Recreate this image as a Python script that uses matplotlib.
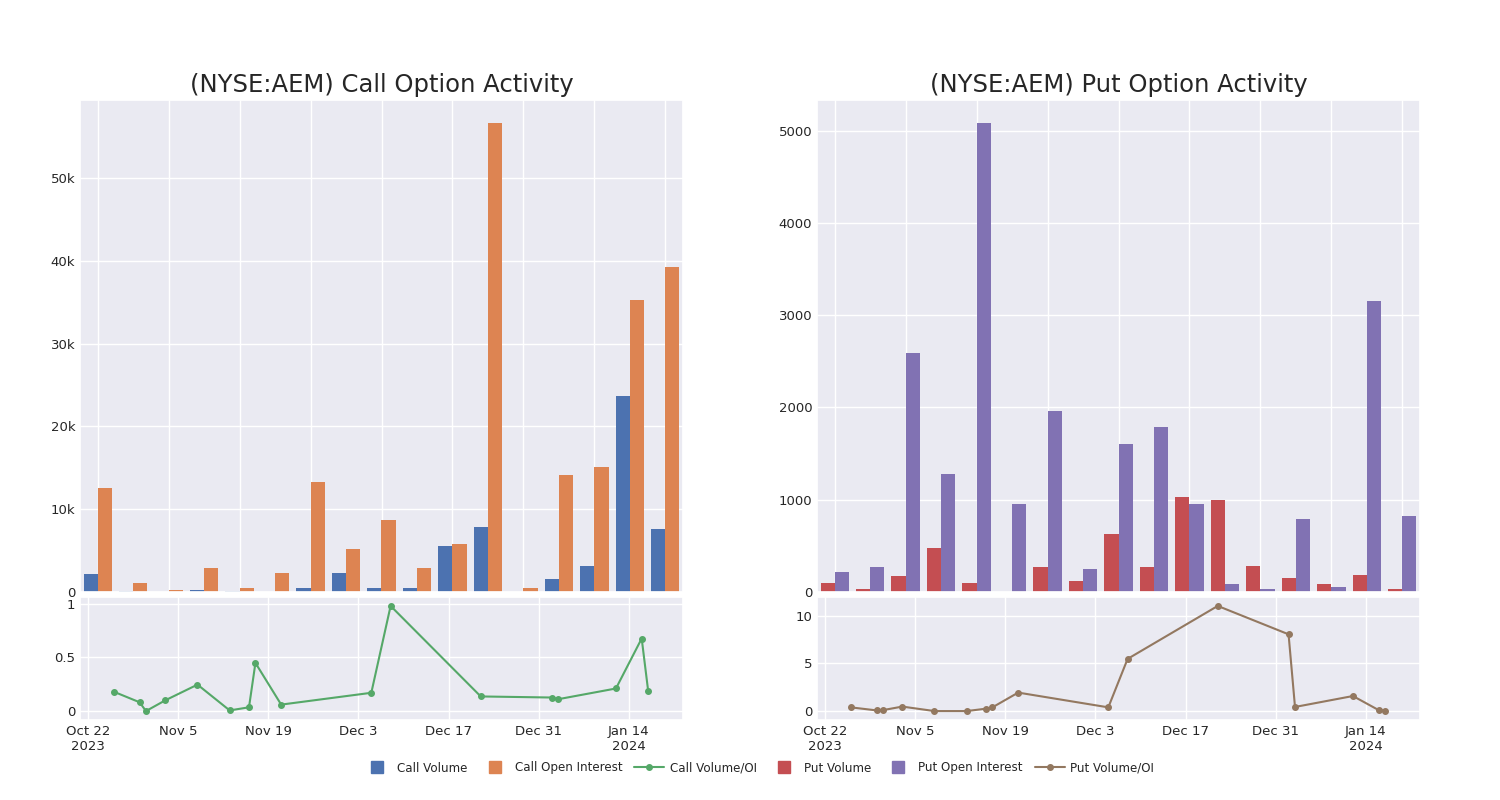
import matplotlib
matplotlib.use("Agg")
import matplotlib.pyplot as plt
import matplotlib.dates as mdates
from matplotlib.ticker import FixedLocator, FuncFormatter
from matplotlib.lines import Line2D
import numpy as np
import datetime as dt
import seaborn as sns

sns.set_theme(style="darkgrid")
plt.rcParams['font.family'] = ['DejaVu Sans']

dates = ["2023-10-26", "2023-10-30", "2023-10-31", "2023-11-03", "2023-11-08",
         "2023-11-13", "2023-11-16", "2023-11-17", "2023-11-21", "2023-12-05",
         "2023-12-08", "2023-12-22", "2024-01-02", "2024-01-03", "2024-01-12",
         "2024-01-16", "2024-01-17"]

call_volume = [2200, 80, 0, 250, 100, 0, 450, 2350, 500, 500, 5600, 7850, 50,
               1550, 3200, 23700, 7600]
call_oi = [12600, 1050, 300, 2900, 500, 2300, 13300, 5250, 8700, 2950, 5750,
           56600, 500, 14100, 15050, 35300, 39300]
call_ratio = [0.18, 0.082, 0.0, 0.10, 0.246, 0.006, 0.035, 0.448, 0.06, 0.17,
              0.978, 0.136, 0.126, 0.11, 0.21, 0.675, 0.19]

put_volume = [95, 33, 170, 475, 98, 3, 269, 120, 624, 272, 1027, 998, 287, 149,
              87, 181, 33]
put_oi = [221, 272, 2595, 1274, 5078, 951, 1964, 254, 1601, 1786, 951, 87, 29,
          788, 51, 3151, 820]
put_ratio = [0.39, 0.07, 0.1, 0.47, 0.0, 0.0, 0.25, 0.39, 1.94, 0.39, 5.48,
             11.04, 8.06, 0.43, 1.58, 0.1, 0.04]

titles = ["(NYSE:AEM) Call Option Activity", "(NYSE:AEM) Put Option Activity"]
legend_labels = ["Call Volume", "Call Open Interest", "Call Volume/OI",
                 "Put Volume", "Put Open Interest", "Put Volume/OI"]

C_BLUE = "#4C72B0"
C_ORANGE = "#DD8452"
C_GREEN = "#55A868"
C_RED = "#C44E52"
C_PURPLE = "#8172B3"
C_BROWN = "#937860"

W, H = 1500, 800
fig = plt.figure(figsize=(W / 100, H / 100), dpi=100)


def frac(x0, y0, x1, y1):
    return [x0 / W, 1 - y1 / H, (x1 - x0) / W, (y1 - y0) / H]


dts = [dt.datetime.strptime(d, "%Y-%m-%d") for d in dates]
tick_dates = [dt.datetime(2023, 10, 22) + dt.timedelta(days=14 * k) for k in range(7)]
xlim_dates = (dt.datetime(2023, 10, 20, 18), dt.datetime(2024, 1, 22, 10))


def date_fmt_factory():
    def f(v, pos):
        d = mdates.num2date(v)
        s = f"{d.strftime('%b')} {d.day}"
        if pos == 0 or (d.month == 1 and d.day <= 14):
            s += f"\n{d.year}"
        return s
    return f


panels = [
    (80, call_volume, call_oi, call_ratio, C_BLUE, C_ORANGE, C_GREEN,
     lambda v, p: "0" if v == 0 else f"{int(round(v / 1000))}k",
     [0, 10000, 20000, 30000, 40000, 50000], [0, 0.5, 1]),
    (817, put_volume, put_oi, put_ratio, C_RED, C_PURPLE, C_BROWN,
     lambda v, p: f"{int(v)}",
     [0, 1000, 2000, 3000, 4000, 5000], [0, 5, 10]),
]

tick_color = "#262626"
for i, (x0, vol, oi, ratio, c1, c2, c3, yfmt, yt, yt2) in enumerate(panels):
    ax = fig.add_axes(frac(x0, 100, x0 + 603, 592))
    n = len(vol)
    pos = np.arange(n)
    ax.bar(pos - 0.2, vol, width=0.4, color=c1, linewidth=0)
    ax.bar(pos + 0.2, oi, width=0.4, color=c2, linewidth=0)
    ax.set_xlim(-0.5, n - 0.5)
    ax.set_xticks(np.arange(0, n, 2))
    ax.set_xticklabels([])
    ax.tick_params(axis="x", length=0)
    ax.yaxis.set_major_locator(FixedLocator(yt))
    ax.yaxis.set_major_formatter(FuncFormatter(yfmt))
    ax.tick_params(axis="y", labelsize=9.5, colors=tick_color, length=0)
    ax.set_ylim(0, max(max(vol), max(oi)) * 1.05)
    ax.set_title(titles[i], fontsize=17.5, color=tick_color, pad=6)

    ax2 = fig.add_axes(frac(x0, 597, x0 + 603, 720))
    ax2.plot(dts, ratio, color=c3, marker="o", markersize=4, linewidth=1.5)
    ax2.set_xlim(*xlim_dates)
    ax2.xaxis.set_major_locator(FixedLocator(mdates.date2num(tick_dates)))
    ax2.xaxis.set_major_formatter(FuncFormatter(date_fmt_factory()))
    ax2.yaxis.set_major_locator(FixedLocator(yt2))
    ax2.yaxis.set_major_formatter(FuncFormatter(lambda v, p: f"{v:g}"))
    ax2.margins(y=0.085)
    ax2.tick_params(labelsize=9.5, colors=tick_color, length=0)

handles = [
    Line2D([], [], marker="s", linestyle="none", color=C_BLUE, markersize=8),
    Line2D([], [], marker="s", linestyle="none", color=C_ORANGE, markersize=8),
    Line2D([], [], marker="o", color=C_GREEN, markersize=4, linewidth=1.5),
    Line2D([], [], marker="s", linestyle="none", color=C_RED, markersize=8),
    Line2D([], [], marker="s", linestyle="none", color=C_PURPLE, markersize=8),
    Line2D([], [], marker="o", color=C_BROWN, markersize=4, linewidth=1.5),
]
fig.legend(handles, legend_labels, loc="center", bbox_to_anchor=(758 / W, 1 - 768 / H),
           ncol=6, frameon=False, fontsize=8.6, handlelength=2.5, columnspacing=1.0,
           handletextpad=0.45)

fig.savefig("out.png", dpi=100)
